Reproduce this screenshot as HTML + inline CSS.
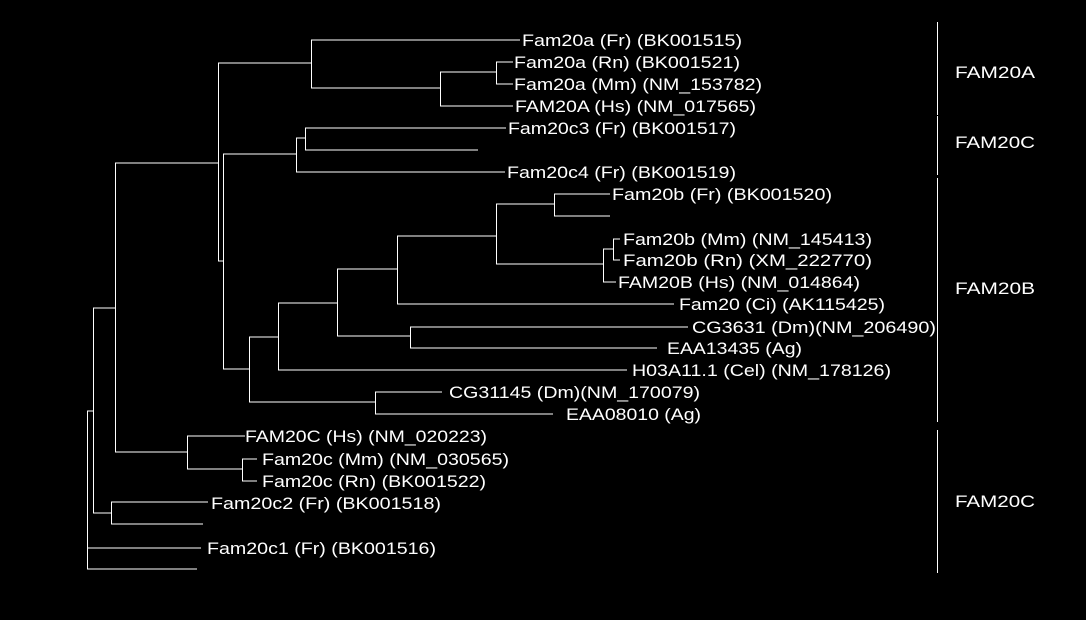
<!DOCTYPE html>
<html><head><meta charset="utf-8"><style>
html,body{margin:0;padding:0;background:#000;width:1086px;height:620px;overflow:hidden}
svg text{font-family:"Liberation Sans",sans-serif;font-size:17px;fill:#fff}
</style></head><body>
<svg width="1086" height="620" viewBox="0 0 1086 620" xmlns="http://www.w3.org/2000/svg">
<g stroke="#fff" stroke-width="1" fill="none" shape-rendering="crispEdges">
<path d="M87.5 411V569M87 411H93M87 548H201M87 569H197"/>
<path d="M93.5 308V513M93 308H115M93 513H111"/>
<path d="M111.5 502V524M111 502H208M111 524H203"/>
<path d="M115.5 163V452M115 163H218M115 452H187"/>
<path d="M187.5 436V469M187 436H245M187 469H242"/>
<path d="M242.5 459V481M242 459H257M242 481H257"/>
<path d="M218.5 63V261M218 63H311M218 261H223"/>
<path d="M311.5 40V88M311 40H520M311 88H440"/>
<path d="M440.5 72V106M440 72H496M440 106H513"/>
<path d="M496.5 62V84M496 62H513M496 84H513"/>
<path d="M223.5 154V369M223 154H296M223 369H249"/>
<path d="M296.5 138V172M296 138H305M296 172H505"/>
<path d="M305.5 128V150M305 128H506M305 150H478"/>
<path d="M249.5 337V402M249 337H278M249 402H375"/>
<path d="M375.5 392V414M375 392H442M375 414H553"/>
<path d="M278.5 303V370M278 303H337M278 370H627"/>
<path d="M337.5 269V336M337 269H397M337 336H410"/>
<path d="M410.5 327V348M410 327H688M410 348H657"/>
<path d="M397.5 236V304M397 236H496M397 304H674"/>
<path d="M496.5 204V264M496 204H554M496 264H603"/>
<path d="M554.5 194V216M554 194H610M554 216H610"/>
<path d="M603.5 249V282M603 249H613M603 282H616"/>
<path d="M613.5 239V260M613 239H620M613 260H620"/>
<path d="M937.5 22V115M937.5 116V175M937.5 178V422M937.5 430V573"/>
</g>
<text x="522" y="46" textLength="220" lengthAdjust="spacingAndGlyphs">Fam20a (Fr) (BK001515)</text>
<text x="514" y="68" textLength="226" lengthAdjust="spacingAndGlyphs">Fam20a (Rn) (BK001521)</text>
<text x="514" y="90" textLength="248" lengthAdjust="spacingAndGlyphs">Fam20a (Mm) (NM_153782)</text>
<text x="515" y="112" textLength="241" lengthAdjust="spacingAndGlyphs">FAM20A (Hs) (NM_017565)</text>
<text x="508" y="134" textLength="228" lengthAdjust="spacingAndGlyphs">Fam20c3 (Fr) (BK001517)</text>
<text x="507" y="178" textLength="229" lengthAdjust="spacingAndGlyphs">Fam20c4 (Fr) (BK001519)</text>
<text x="612" y="200" textLength="220" lengthAdjust="spacingAndGlyphs">Fam20b (Fr) (BK001520)</text>
<text x="623" y="245" textLength="249" lengthAdjust="spacingAndGlyphs">Fam20b (Mm) (NM_145413)</text>
<text x="623" y="266" textLength="249" lengthAdjust="spacingAndGlyphs">Fam20b (Rn) (XM_222770)</text>
<text x="618" y="288" textLength="242" lengthAdjust="spacingAndGlyphs">FAM20B (Hs) (NM_014864)</text>
<text x="679" y="310" textLength="206" lengthAdjust="spacingAndGlyphs">Fam20 (Ci) (AK115425)</text>
<text x="692" y="333" textLength="244" lengthAdjust="spacingAndGlyphs">CG3631 (Dm)(NM_206490)</text>
<text x="667" y="354" textLength="135" lengthAdjust="spacingAndGlyphs">EAA13435 (Ag)</text>
<text x="632" y="376" textLength="259" lengthAdjust="spacingAndGlyphs">H03A11.1 (Cel) (NM_178126)</text>
<text x="449" y="398" textLength="251" lengthAdjust="spacingAndGlyphs">CG31145 (Dm)(NM_170079)</text>
<text x="566" y="420" textLength="135" lengthAdjust="spacingAndGlyphs">EAA08010 (Ag)</text>
<text x="245" y="442" textLength="242" lengthAdjust="spacingAndGlyphs">FAM20C (Hs) (NM_020223)</text>
<text x="262" y="465" textLength="247" lengthAdjust="spacingAndGlyphs">Fam20c (Mm) (NM_030565)</text>
<text x="262" y="487" textLength="224" lengthAdjust="spacingAndGlyphs">Fam20c (Rn) (BK001522)</text>
<text x="211" y="509" textLength="230" lengthAdjust="spacingAndGlyphs">Fam20c2 (Fr) (BK001518)</text>
<text x="207" y="554" textLength="229" lengthAdjust="spacingAndGlyphs">Fam20c1 (Fr) (BK001516)</text>
<text x="955" y="78" textLength="80" lengthAdjust="spacingAndGlyphs">FAM20A</text>
<text x="955" y="148" textLength="80" lengthAdjust="spacingAndGlyphs">FAM20C</text>
<text x="955" y="294" textLength="80" lengthAdjust="spacingAndGlyphs">FAM20B</text>
<text x="955" y="507" textLength="80" lengthAdjust="spacingAndGlyphs">FAM20C</text>
</svg>
</body></html>
